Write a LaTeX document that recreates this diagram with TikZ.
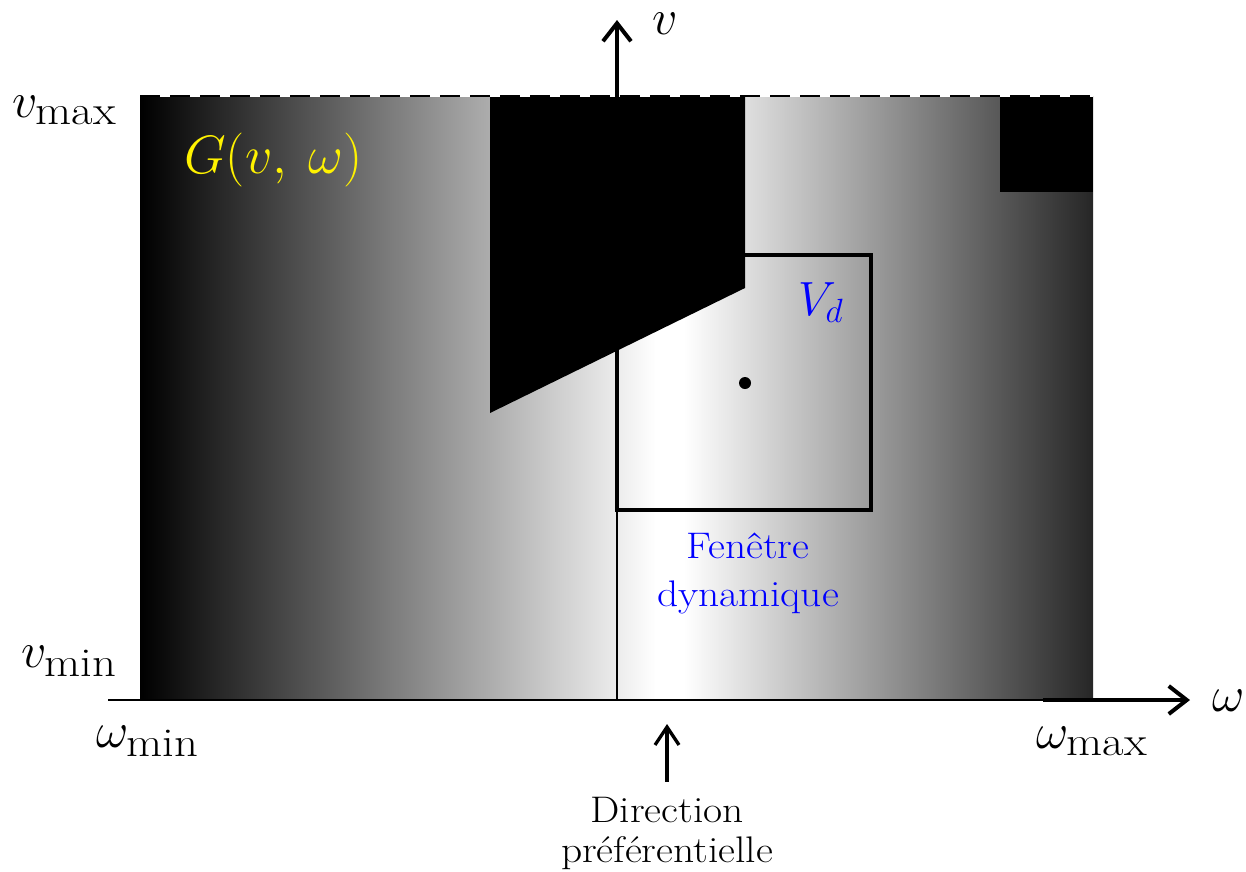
\RequirePackage{fix-cm}
\documentclass[tikz,border=0pt]{standalone}
\usepackage{graphicx}
\usetikzlibrary{arrows.meta}
\newcommand\subtxt[1]{\mbox{\fontsize{41}{41}\selectfont\scalebox{1.14}[1]{#1}}}
\newcommand\wideline[1]{\scalebox{1.12}[1]{#1}}
\tikzset{
  axisarrow/.style={line width=4pt, -{Straight Barb[length=18pt,width=28pt]}},
  dirarrow/.style={line width=3.3pt, -{Straight Barb[length=18pt,width=24pt]}},
  thinline/.style={line width=2pt},
  mlab/.style={inner sep=0pt, anchor=base west, font=\fontsize{50}{60}\selectfont},
  txt/.style={inner sep=0pt, align=center}
}
\begin{document}
\begin{tikzpicture}[x=1pt,y=-1pt]
\fill[white] (0,0) rectangle (1246,871);
\useasboundingbox (0,0) rectangle (1246,871);
% gradient field G(v,omega)
\shade[left color=black, right color=white] (140,96) rectangle (656,700);
\fill[white] (655,96) rectangle (685,700);
\shade[left color=white, right color=black!85] (684,96) rectangle (1093,700);
% preferred direction line
\coordinate (ptop) at (617,96);
\coordinate (pbot) at (617,700);
\draw[thinline] (ptop) -- (pbot);
% dynamic window
\draw[line width=4.5pt] (617,255) rectangle (871,510);
% obstacles
\fill[black] (490,96) -- (745,96) -- (745,288) -- (490,413) -- cycle;
\fill[black] (1000,96) rectangle (1093,192);
% current point
\node[circle, fill=black, inner sep=0pt, minimum size=12pt] (dot) at (745,383) {};
% top dashed edge
\draw[white, line width=2.5pt] (140,96) -- (1093,96);
\draw[black, line width=2.5pt, dash pattern=on 20pt off 10pt] (140,96) -- (1093,96);
% axes
\coordinate (xstart) at (108,700);
\coordinate (xmid) at (1043,700);
\coordinate (xtip) at (1190,700);
\draw[thinline] (xstart) -- (xmid);
\draw[axisarrow] (xmid) -- (xtip);
\coordinate (vbase) at (617,97);
\coordinate (vtip) at (617,20);
\draw[axisarrow] (vbase) -- (vtip);
% labels
\node[mlab] (vmax) at (12,117) {$v_{\subtxt{max}}$};
\node[mlab] (vmin) at (21,667) {$v_{\subtxt{min}}$};
\node[mlab] (wmin) at (96,747) {$\omega_{\subtxt{min}}$};
\node[mlab] (wmax) at (1036,748) {$\omega_{\subtxt{max}}$};
\node[mlab] (wlab) at (1212,711) {$\omega$};
\node[mlab] (vlab) at (652,34) {$v$};
\node[mlab, text=yellow, font=\fontsize{54}{64}\selectfont] (G) at (184,173) {$G(v,\mkern4mu\omega)$};
\node[mlab, text=blue, font=\fontsize{48}{58}\selectfont] (Vd) at (798,315) {$V_d$};
\node[txt, text=blue, font=\fontsize{37}{48}\selectfont] (fen) at (748,573) {\wideline{Fenêtre}\\\wideline{dynamique}};
\node[txt, font=\fontsize{37}{40}\selectfont] (dir) at (667,833) {\wideline{Direction}\\\wideline{préférentielle}};
\coordinate (pref) at (665,724);
\draw[dirarrow, shorten <=15pt] (dir.north) -- (dir.north |- pref);
\end{tikzpicture}
\end{document}
